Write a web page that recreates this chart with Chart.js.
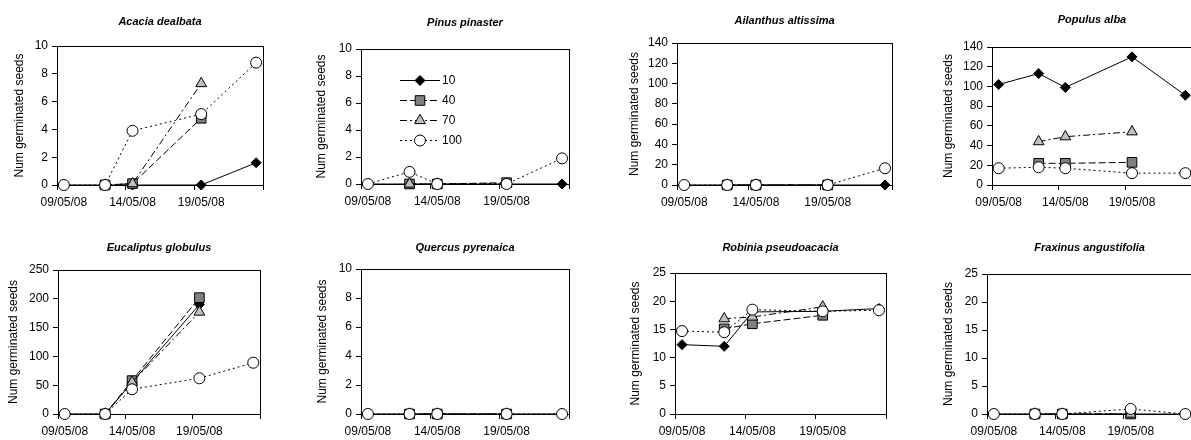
<!DOCTYPE html>
<html>
<head>
<meta charset="utf-8">
<script src="https://cdn.jsdelivr.net/npm/chart.js"></script>
<style>
	html, body { margin: 0; padding: 0; background: #fff; overflow: hidden; }
	body { width: 1191px; height: 440px; position: relative; }
	canvas { position: absolute; }
</style>
</head>
<body>
<script>
// dias de contagem (dias depois de 09/05/08): 09/05, 12/05, 14/05, 19/05, 23/05
var dias = [0, 3, 5, 10, 14];
var posicoesX = [-0.5, 4.5, 9.5, 14.5];
var rotulosX = ['09/05/08', '14/05/08', '19/05/08', ''];
var series = ['10', '40', '70', '100'];

var especies = ['Acacia dealbata', 'Pinus pinaster', 'Ailanthus altissima', 'Populus alba',
	'Eucaliptus globulus', 'Quercus pyrenaica', 'Robinia pseudoacacia', 'Fraxinus angustifolia'];
var yMax = [10, 10, 140, 140, 250, 10, 25, 25];
var yPasso = [2, 2, 20, 20, 50, 2, 5, 5];

// uma linha por serie: 10, 40, 70, 100
var acacia = [
	[0, 0, 0, 0, 1.6],
	[null, 0, 0.1, 4.8, null],
	[null, 0, 0.1, 7.3, null],
	[0, 0, 3.9, 5.1, 8.8]
];
var pinus = [
	[0, 0, 0, 0, 0],
	[null, 0, 0, 0.1, null],
	[null, 0, 0, 0, null],
	[0, 0.9, 0, 0, 1.9]
];
var ailanthus = [
	[0, 0, 0, 0, 0],
	[null, 0, 0, 0, null],
	[null, 0, 0, 0, null],
	[0, 0, 0, 0, 16.5]
];
var populus = [
	[102, 113, 99, 130, 91],
	[null, 22, 22, 23, null],
	[null, 44, 49, 54, null],
	[17, 18, 17, 12, 12]
];
var eucaliptus = [
	[0, 0, 55, 190, null],
	[null, 0, 58, 202, null],
	[null, 0, 55, 177, null],
	[0, 0, 43, 62, 89]
];
var quercus = [
	[0, 0, 0, 0, 0],
	[null, 0, 0, 0, null],
	[null, 0, 0, 0, null],
	[0, 0, 0, 0, 0]
];
var robinia = [
	[12.3, 12.0, 18.1, 18.2, 18.7],
	[null, 15.1, 16.0, 17.5, null],
	[null, 16.9, 17.2, 19.0, null],
	[14.7, 14.5, 18.5, 18.2, 18.4]
];
var fraxinus = [
	[0, 0, 0, 0, 0],
	[null, 0, 0, 0, null],
	[null, 0, 0, 0, null],
	[0, 0, 0, 0.9, 0]
];
var dados = [acacia, pinus, ailanthus, populus, eucaliptus, quercus, robinia, fraxinus];

// area de plotagem de cada painel (px na pagina)
var geometria = [
	{left: 57, top: 46, right: 263, bottom: 185, tituloY: 22, distTituloY: 37},
	{left: 361, top: 49, right: 569, bottom: 184, tituloY: 23, distTituloY: 39},
	{left: 677, top: 43, right: 894, bottom: 185, tituloY: 21, distTituloY: 42},
	{left: 992, top: 47, right: 1192, bottom: 185, tituloY: 20, distTituloY: 43},
	{left: 58, top: 270, right: 260, bottom: 414, tituloY: 248, distTituloY: 44},
	{left: 361, top: 269, right: 569, bottom: 414, tituloY: 248, distTituloY: 38},
	{left: 675, top: 273, right: 886, bottom: 414, tituloY: 248, distTituloY: 39},
	{left: 987, top: 274, right: 1195, bottom: 414, tituloY: 248, distTituloY: 38}
];

var fonte = "'Liberation Sans', Arial, sans-serif";

var estilos = [
	{borderDash: [], pointStyle: 'rectRot', pointRadius: 5, pointBackgroundColor: '#000000'},
	{borderDash: [7, 3], pointStyle: 'rect', pointRadius: 6.8, pointBackgroundColor: '#808080'},
	{borderDash: [7, 3, 2, 3], pointStyle: 'triangle', pointRadius: 6.2, pointBackgroundColor: '#c0c0c0'},
	{borderDash: [2, 3], pointStyle: 'circle', pointRadius: 5.5, pointBackgroundColor: '#ffffff'}
];

function alinhar(v) {
	return Math.round(v - 0.5) + 0.5;
}

// moldura preta em volta da area de plotagem
var moldura = {
	id: 'moldura',
	beforeDatasetsDraw: function(chart) {
		var a = chart.chartArea;
		var ctx = chart.ctx;
		var x0 = alinhar(a.left), y0 = alinhar(a.top), x1 = alinhar(a.right), y1 = alinhar(a.bottom);
		ctx.save();
		ctx.strokeStyle = '#000';
		ctx.lineWidth = 1;
		ctx.strokeRect(x0, y0, x1 - x0, y1 - y0);
		ctx.restore();
	}
};

// legenda estilo Excel (linha + marcador + texto) dentro do painel
var legendaLinhas = {
	id: 'legendaLinhas',
	afterDraw: function(chart, args, opts) {
		var ctx = chart.ctx;
		chart.data.datasets.forEach(function(ds, k) {
			var y = opts.y + k * opts.passo;
			ctx.save();
			ctx.strokeStyle = '#000';
			ctx.lineWidth = 1;
			ctx.setLineDash(ds.borderDash || []);
			ctx.beginPath();
			ctx.moveTo(opts.x, y + 0.5);
			ctx.lineTo(opts.x + opts.largura, y + 0.5);
			ctx.stroke();
			ctx.setLineDash([]);
			ctx.fillStyle = ds.pointBackgroundColor;
			ctx.strokeStyle = '#000';
			Chart.helpers.drawPoint(ctx, {pointStyle: ds.pointStyle, radius: ds.pointRadius, borderWidth: 1, rotation: 0},
				opts.x + opts.largura / 2, y + 0.5);
			ctx.fillStyle = '#000';
			ctx.font = '12px ' + fonte;
			ctx.textBaseline = 'middle';
			ctx.textAlign = 'left';
			ctx.fillText(ds.label, opts.x + opts.largura + 2, y + 1);
			ctx.restore();
		});
	}
};

function criarGrafico(i) {
	var g = geometria[i];
	var cx = (i % 4) * 300, cy = i < 4 ? 0 : 215;
	var cw = 300, ch = i < 4 ? 215 : 225;
	var larguraY = 56, alturaX = 25;

	var canvas = document.createElement('canvas');
	canvas.width = cw;
	canvas.height = ch;
	canvas.style.left = cx + 'px';
	canvas.style.top = cy + 'px';
	document.body.appendChild(canvas);

	var meioDia = (g.right - g.left) / 15 / 2;

	var datasets = series.map(function(nome, s) {
		var pontos = [];
		dados[i][s].forEach(function(v, k) {
			if (v !== null) pontos.push({x: dias[k], y: v});
		});
		return Object.assign({
			label: nome,
			data: pontos,
			order: 4 - s,
			clip: false,
			borderColor: '#000',
			borderWidth: 1,
			pointBorderColor: '#000',
			pointBorderWidth: 1,
			tension: 0
		}, estilos[s]);
	});

	var plugins = [moldura];
	if (i === 1) plugins.push(legendaLinhas);

	new Chart(canvas, {
		type: 'line',
		data: {datasets: datasets},
		options: {
			responsive: false,
			animation: false,
			events: [],
			layout: {
				padding: {
					left: g.left - cx - larguraY,
					right: cx + cw - g.right,
					top: 0,
					bottom: ch - (g.bottom - cy) - alturaX
				}
			},
			plugins: {
				legend: {display: false},
				tooltip: {enabled: false},
				title: {
					display: true,
					text: especies[i],
					fullSize: false,
					color: '#000',
					font: {family: fonte, size: 11, weight: 'bold', style: 'italic'},
					padding: {top: g.tituloY - cy - 6.6, bottom: g.top - g.tituloY - 6.6}
				},
				legendaLinhas: {x: 100, y: 80, passo: 20, largura: 40}
			},
			scales: {
				x: {
					type: 'linear',
					min: -0.5,
					max: 14.5,
					afterBuildTicks: function(eixo) {
						eixo.ticks = posicoesX.map(function(v) { return {value: v}; });
					},
					afterFit: function(eixo) { eixo.height = alturaX; },
					ticks: {
						callback: function(v, idx) { return rotulosX[idx]; },
						labelOffset: meioDia,
						padding: 5,
						color: '#000',
						autoSkip: false,
						maxRotation: 0,
						font: {family: fonte, size: 12}
					},
					grid: {drawOnChartArea: false, tickLength: 5, color: '#000'},
					border: {color: '#000'}
				},
				y: {
					min: 0,
					max: yMax[i],
					afterFit: function(eixo) { eixo.width = larguraY; },
					ticks: {
						stepSize: yPasso[i],
						padding: 4,
						color: '#000',
						font: {family: fonte, size: 12}
					},
					title: {
						display: true,
						text: 'Num germinated seeds',
						color: '#000',
						font: {family: fonte, size: 12},
						padding: {top: larguraY - g.distTituloY - 7.2, bottom: 0}
					},
					grid: {drawOnChartArea: false, tickLength: 5, color: '#000'},
					border: {color: '#000'}
				}
			}
		},
		plugins: plugins
	});
}

for (var i = 0; i < 8; i++) {
	criarGrafico(i);
}
</script>
</body>
</html>
